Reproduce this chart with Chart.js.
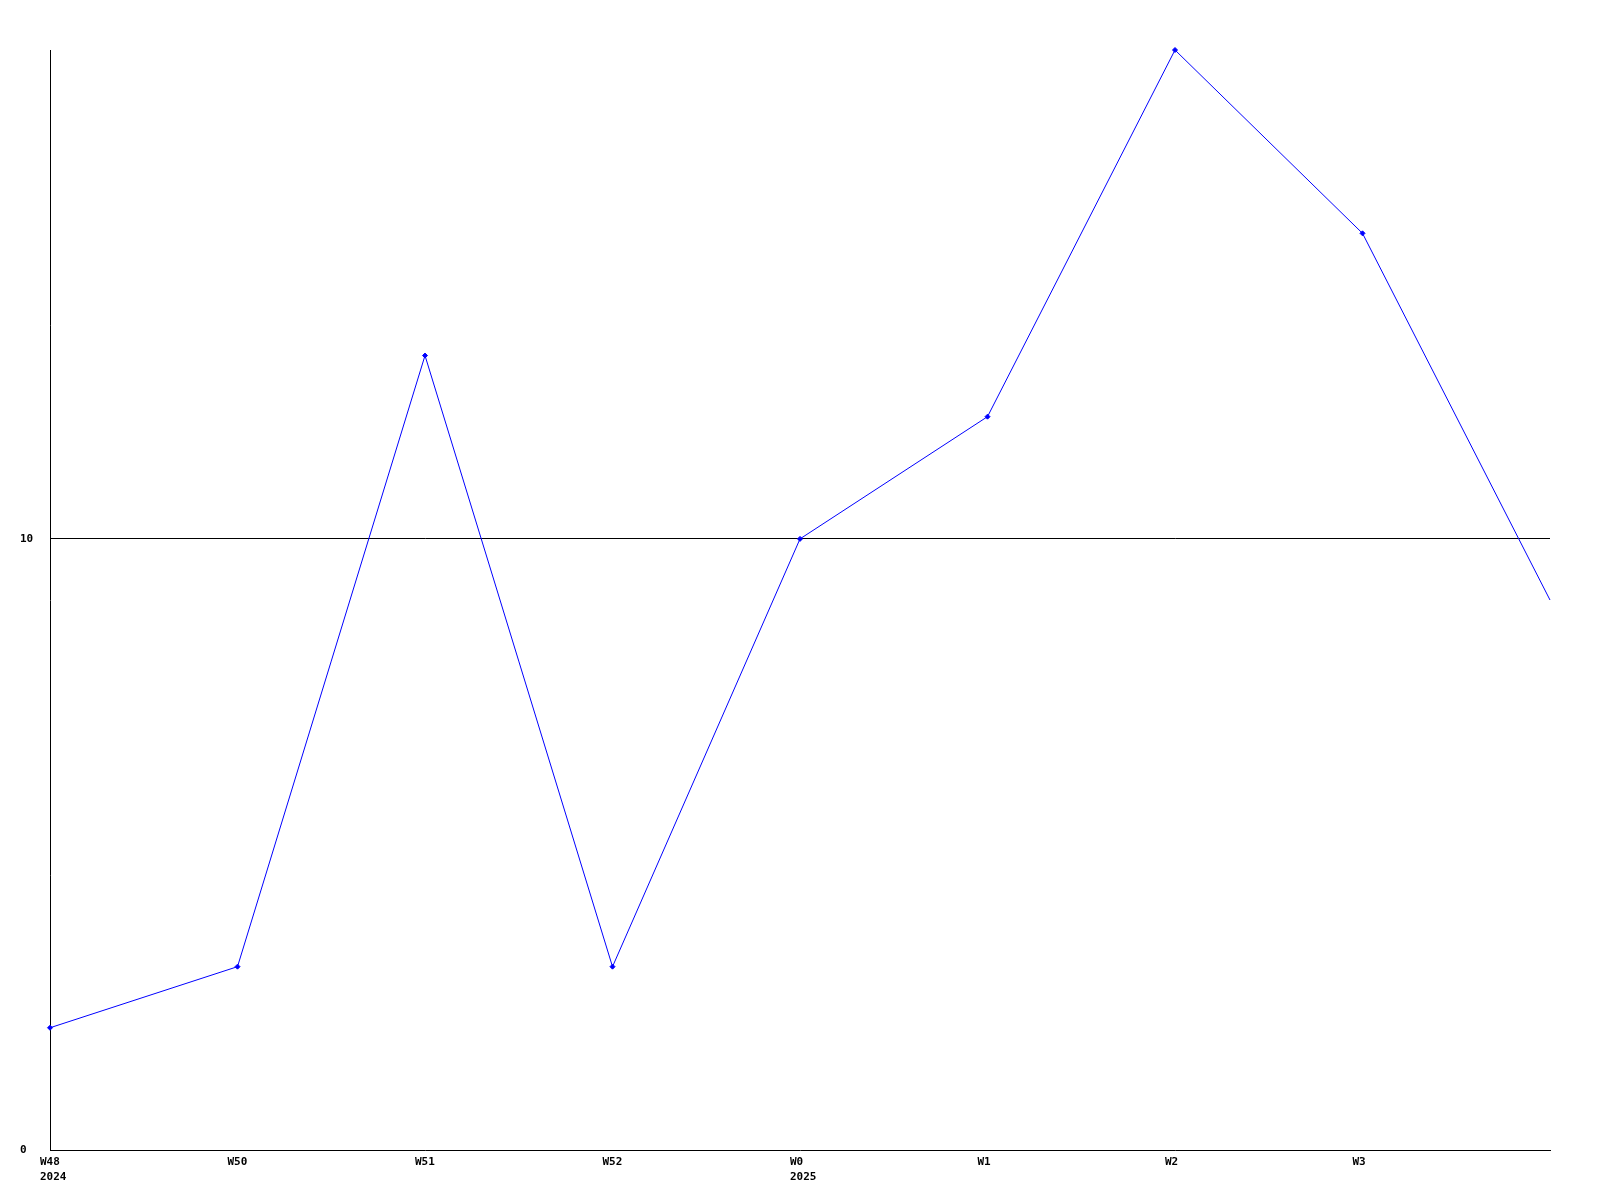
<!DOCTYPE html>
<html>
<head>
<meta charset="utf-8">
<script src="https://cdn.jsdelivr.net/npm/chart.js@4/dist/chart.umd.min.js"></script>
<style>
html,body{margin:0;padding:0;background:#fff;}
canvas{display:block;}
</style>
</head>
<body>
<canvas id="c" width="1600" height="1200"></canvas>
<script>
const weekLabels = ['W48', 'W50', 'W51', 'W52', 'W0', 'W1', 'W2', 'W3', ''];
const yearLabels = ['2024', '', '', '', '2025', '', '', '', ''];
const values = [2, 3, 13, 3, 10, 12, 18, 15, 9];
const yTicks = [0, 10];

const points = values.map((v, i) => ({x: i, y: v}));
const FONT = 'bold 11px "DejaVu Sans Mono", "Liberation Mono", monospace';

const labelPlugin = {
  id: 'labels',
  afterDraw(chart) {
    const ctx = chart.ctx;
    const xs = chart.scales.x, ys = chart.scales.y;
    ctx.save();
    ctx.font = FONT;
    ctx.fillStyle = '#000';
    ctx.textAlign = 'left';
    ctx.textBaseline = 'middle';
    weekLabels.forEach((lab, i) => {
      const px = xs.getPixelForValue(i) - 10;
      if (lab) ctx.fillText(lab, px, xs.bottom + 12);
      if (yearLabels[i]) ctx.fillText(yearLabels[i], px, xs.bottom + 27);
    });
    yTicks.forEach(t => {
      ctx.fillText(String(t), 20, ys.getPixelForValue(t));
    });
    ctx.restore();
  }
};

new Chart(document.getElementById('c'), {
  type: 'line',
  data: {
    datasets: [{
      data: points,
      borderColor: '#0000ff',
      backgroundColor: '#0000ff',
      borderWidth: 1,
      pointStyle: 'rectRot',
      pointRadius: points.map((p, i) => i === points.length - 1 ? 0 : 2.5),
      pointBorderWidth: 1,
      tension: 0,
      clip: false
    }]
  },
  options: {
    responsive: false,
    animation: false,
    devicePixelRatio: 1,
    layout: {padding: {left: 50, top: 50, right: 50, bottom: 50}},
    plugins: {legend: {display: false}, tooltip: {enabled: false}},
    scales: {
      x: {
        type: 'linear',
        min: 0, max: 8,
        ticks: {display: false, stepSize: 1},
        grid: {display: false, drawTicks: false},
        border: {display: true, color: '#000', width: 1}
      },
      y: {
        min: 0, max: 18,
        afterBuildTicks(scale) { scale.ticks = yTicks.map(v => ({value: v})); },
        ticks: {display: false},
        grid: {
          drawTicks: false,
          color: ctx => (ctx.tick && ctx.tick.value === 10) ? '#000' : 'rgba(0,0,0,0)',
          lineWidth: 1
        },
        border: {display: true, color: '#000', width: 1}
      }
    }
  },
  plugins: [labelPlugin]
});
</script>
</body>
</html>
